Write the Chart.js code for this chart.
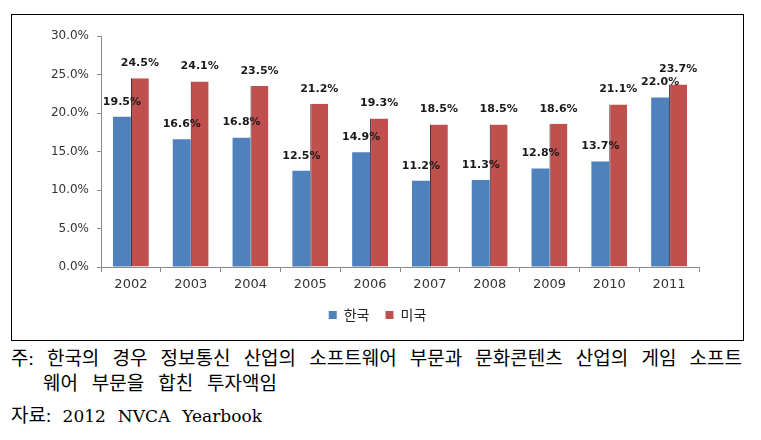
<!DOCTYPE html>
<html>
<head>
<meta charset="utf-8">
<script src="https://cdn.jsdelivr.net/npm/chart.js@4"></script>
<style>
  body { margin: 0; background: #fff; width: 761px; height: 440px; position: relative; overflow: hidden; }
  #box { position: absolute; left: 11px; top: 14px; width: 731px; height: 325px; border: 1px solid #000; }
  .note { position: absolute; font-family: "Liberation Serif", "Noto Sans CJK KR", serif; font-size: 19px; color: #000; white-space: nowrap; line-height: 22px; text-align: justify; text-align-last: justify; }
  .note .lat { font-family: "DejaVu Serif", serif; font-size: 17px; }
  #n1 { left: 11px; top: 348px; width: 731px; }
  #n2 { left: 43px; top: 373px; width: 234px; }
  #n3 { left: 11px; top: 405px; width: 251px; }
</style>
</head>
<body>
<div id="box"><canvas id="c" width="731" height="325"></canvas></div>
<div class="note" id="n1">주: 한국의 경우 정보통신 산업의 소프트웨어 부문과 문화콘텐츠 산업의 게임 소프트</div>
<div class="note" id="n2">웨어 부문을 합친 투자액임</div>
<div class="note" id="n3">자료: <span class="lat">2012 NVCA Yearbook</span></div>
<script>
// 데이터
const years = ['2002', '2003', '2004', '2005', '2006', '2007', '2008', '2009', '2010', '2011'];
const korea = [19.5, 16.6, 16.8, 12.5, 14.9, 11.2, 11.3, 12.8, 13.7, 22.0];
const usa = [24.5, 24.1, 23.5, 21.2, 19.3, 18.5, 18.5, 18.6, 21.1, 23.7];
const seriesNames = ['한국', '미국'];

// 막대 위 값 표시
const valueLabels = {
    id: 'valueLabels',
    afterDatasetsDraw(chart) {
        const ctx = chart.ctx;
        ctx.save();
        ctx.font = 'bold 11px "DejaVu Sans"';
        ctx.fillStyle = '#1a1a1a';
        ctx.textAlign = 'center';
        ctx.textBaseline = 'middle';
        chart.data.datasets.forEach((ds, i) => {
            chart.getDatasetMeta(i).data.forEach((bar, j) => {
                ctx.fillText(ds.data[j].toFixed(1) + '%', bar.x, bar.y - 15);
            });
        });
        ctx.restore();
    }
};

const axisColor = '#8a8a8a';

new Chart(document.getElementById('c'), {
    type: 'bar',
    data: {
        labels: years,
        datasets: [{
            label: seriesNames[0],
            data: korea,
            backgroundColor: '#4F81BD',
            borderWidth: 0
        }, {
            label: seriesNames[1],
            data: usa,
            backgroundColor: '#C0504D',
            borderColor: '#2a1826',
            borderWidth: { left: 1, top: 0, right: 0, bottom: 0 },
            borderSkipped: false
        }]
    },
    options: {
        responsive: false,
        devicePixelRatio: 1,
        animation: false,
        categoryPercentage: 0.6,
        barPercentage: 1,
        layout: { padding: { top: 21, left: 0, right: 0, bottom: 8 } },
        plugins: {
            tooltip: { enabled: false },
            legend: {
                position: 'bottom',
                labels: {
                    boxWidth: 8,
                    boxHeight: 8,
                    padding: 16,
                    color: '#222',
                    font: { family: '"Noto Sans CJK KR"', size: 14 },
                    generateLabels(chart) {
                        const items = Chart.defaults.plugins.legend.labels.generateLabels(chart);
                        items.forEach(it => { it.lineWidth = 0; });
                        return items;
                    }
                }
            }
        },
        scales: {
            x: {
                grid: { display: true, drawOnChartArea: false, color: axisColor, tickLength: 5 },
                border: { color: axisColor, width: 1 },
                ticks: { color: '#333', padding: 5, font: { family: '"DejaVu Sans"', size: 13 } },
                afterFit(s) { s.height = 25; }
            },
            y: {
                min: 0,
                max: 30,
                ticks: {
                    stepSize: 5,
                    color: '#333',
                    padding: 8,
                    font: { family: '"DejaVu Sans"', size: 12 },
                    callback: v => v.toFixed(1) + '%'
                },
                grid: { display: true, drawOnChartArea: false, color: axisColor, tickLength: 4 },
                border: { color: axisColor, width: 1 },
                afterFit(s) { s.width = 89; }
            },
            yR: {
                position: 'right',
                display: true,
                grid: { display: false },
                border: { display: false },
                ticks: { display: false },
                afterFit(s) { s.width = 44; }
            }
        }
    },
    plugins: [valueLabels]
});
</script>
</body>
</html>
